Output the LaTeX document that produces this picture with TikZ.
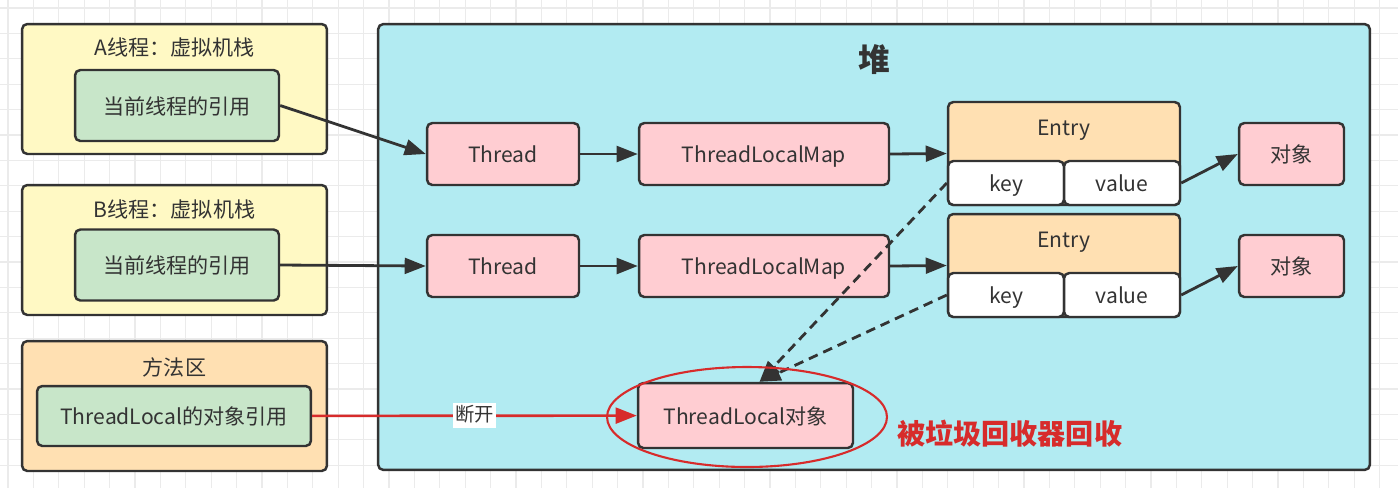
\documentclass[tikz,border=0pt]{standalone}
\usepackage{fontspec}
\newfontfamily\cjk{Noto Sans CJK SC}
\usetikzlibrary{arrows.meta,shapes.geometric,calc}
\definecolor{ink}{HTML}{333333}
\definecolor{gridgray}{HTML}{EBEBEB}
\definecolor{stackyellow}{HTML}{FFF9C4}
\definecolor{refgreen}{HTML}{C8E6C9}
\definecolor{methodorange}{HTML}{FFE0B2}
\definecolor{heapcyan}{HTML}{B2EBF2}
\definecolor{objpink}{HTML}{FFCDD2}
\definecolor{gcred}{HTML}{D72B2B}

\begin{document}
\begin{tikzpicture}[x=0.02cm,y=-0.02cm,
  every node/.style={font=\cjk\fontsize{12}{14}\selectfont,text=ink,text height=10pt,text depth=0pt},
  box/.style={draw=ink,line width=1.4pt,rounded corners=3pt,inner sep=0pt},
  area/.style={box,fill=#1,minimum width=6.1cm,minimum height=2.6cm},
  refbox/.style={box,fill=refgreen,minimum height=1.42cm},
  obj/.style={box,fill=objpink,minimum height=1.24cm},
  cell/.style={box,fill=white,minimum width=2.32cm,minimum height=0.88cm},
  link/.style={draw=ink,line width=1.6pt,-{Triangle[length=12pt,width=9pt]}},
  weak/.style={link,dash pattern=on 5.5pt off 3.5pt},
  cut/.style={draw=gcred,line width=1.5pt,-{Triangle[length=12pt,width=9pt]}}]
\useasboundingbox[fill=white] (0,0) rectangle (1398,488);
\foreach \gx in {0,...,54} \draw[gridgray,line width=0.6pt] ({8+25.4*\gx},0)--({8+25.4*\gx},488);
\foreach \gy in {0,...,18} \draw[gridgray,line width=0.6pt] (0,{8+25.4*\gy})--(1398,{8+25.4*\gy});

\node[area=stackyellow] (stackA) at (174.5,89) {};
\node (stackAtitle) at (174.5,47) {A线程：虚拟机栈};
\node[refbox,minimum width=4.08cm] (refA) at (177,105.5) {当前线程的引用};

\node[area=stackyellow] (stackB) at (174.5,250) {};
\node (stackBtitle) at (174.5,209) {B线程：虚拟机栈};
\node[refbox,minimum width=4.08cm] (refB) at (177,265) {当前线程的引用};

\node[area=methodorange] (method) at (174.5,406) {};
\node (methodtitle) at (174.5,367) {方法区};
\node[refbox,minimum width=5.48cm,minimum height=1.2cm] (tlRef) at (174,416) {ThreadLocal的对象引用};

\node[box,fill=heapcyan,minimum width=19.84cm,minimum height=8.92cm] (heap) at (874,247) {};
\node[font=\cjk\bfseries\fontsize{18}{20}\selectfont,text height=13pt] (heaptitle) at (874,60) {堆};

\node[obj,minimum width=3.04cm] (threadA) at (503,154) {Thread};
\node[obj,minimum width=5cm] (mapA) at (764,154) {ThreadLocalMap};
\node[box,fill=methodorange,minimum width=4.64cm,minimum height=2.06cm] (entryA) at (1064,153.5) {};
\node (entryAtitle) at (1064,127) {Entry};
\node[cell] (keyA) at (1006,183) {key};
\node[cell] (valueA) at (1122,183) {value};
\node[obj,minimum width=2.1cm] (objA) at (1291.5,154) {对象};

\node[obj,minimum width=3.04cm] (threadB) at (503,266) {Thread};
\node[obj,minimum width=5cm] (mapB) at (764,266) {ThreadLocalMap};
\node[box,fill=methodorange,minimum width=4.64cm,minimum height=2.06cm] (entryB) at (1064,265.5) {};
\node (entryBtitle) at (1064,239) {Entry};
\node[cell] (keyB) at (1006,295) {key};
\node[cell] (valueB) at (1122,295) {value};
\node[obj,minimum width=2.1cm] (objB) at (1291.5,266) {对象};

\node[obj,minimum width=4.3cm,minimum height=1.3cm] (tlObj) at (745.5,415.5) {ThreadLocal对象};
\coordinate (tlHook) at ($(tlObj.north)+(14,0)$);

\draw[link] (refA.east)--(threadA.west);
\draw[link] (refB.east)--(threadB.west);
\draw[link] (threadA)--(mapA);
\draw[link] (threadB)--(mapB);
\draw[link] (mapA.east)--(entryA.west);
\draw[link] (mapB.east)--(entryB.west);
\draw[link] (valueA.east)--(objA.west);
\draw[link] (valueB.east)--(objB.west);
\draw[weak] (keyA.west)--(tlHook);
\draw[weak] (keyB.west)--(tlHook);

\draw[cut] (tlRef)--node[fill=white,inner sep=1.5pt,text height=9pt,text depth=2pt,font=\cjk\fontsize{11}{13}\selectfont]{断开}(tlObj);
\node[draw=gcred,line width=1.2pt,ellipse,minimum width=5.6cm,minimum height=2cm] (gcRing) at (747,417) {};
\node[anchor=west,text=gcred,text height=13pt,font=\cjk\bfseries\fontsize{16}{18}\selectfont] (gcNote) at (891,433) {被垃圾回收器回收};
\end{tikzpicture}
\end{document}
